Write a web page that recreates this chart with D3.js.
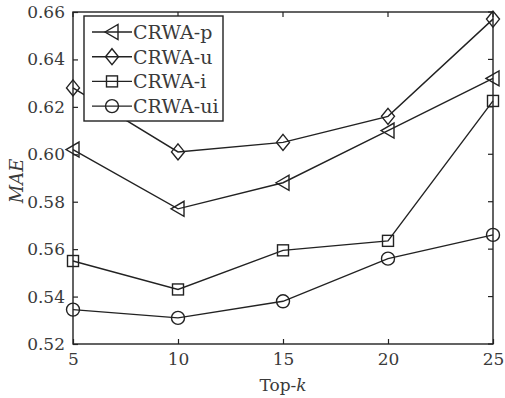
<!DOCTYPE html>
<html><head><meta charset="utf-8">
<script src="https://cdn.jsdelivr.net/npm/d3@7"></script>
<style>html,body{margin:0;padding:0;background:#fff;}svg{display:block;}</style>
</head><body>
<script>
const topK = [5, 10, 15, 20, 25];
const seriesNames = ["CRWA-p", "CRWA-u", "CRWA-i", "CRWA-ui"];
const crwaP  = [0.602, 0.577, 0.588, 0.610, 0.632];
const crwaU  = [0.628, 0.601, 0.605, 0.616, 0.657];
const crwaI  = [0.555, 0.543, 0.5595, 0.5635, 0.6225];
const crwaUI = [0.5345, 0.531, 0.538, 0.556, 0.566];
const yTicks = [0.52, 0.54, 0.56, 0.58, 0.60, 0.62, 0.64, 0.66];
const xTicks = [5, 10, 15, 20, 25];
const markers = ["triangle", "diamond", "square", "circle"];

const W = 505, H = 398;
const m = {l: 73, r: 12, t: 12, b: 54};
const svg = d3.select("body").append("svg").attr("width", W).attr("height", H);
const x = d3.scaleLinear().domain([5, 25]).range([m.l, W - m.r]);
const y = d3.scaleLinear().domain([0.52, 0.66]).range([H - m.b, m.t]);
const font = "'DejaVu Serif', serif";
const ink = "#222";
const txt = "#3a3a3a";

// frame
svg.append("rect").attr("x", x(5)).attr("y", y(0.66)).attr("width", x(25) - x(5)).attr("height", y(0.52) - y(0.66))
  .attr("fill", "none").attr("stroke", ink).attr("stroke-width", 1.4);

const xAxis = svg.append("g").attr("transform", `translate(0,${y(0.52)})`)
  .call(d3.axisBottom(x).tickValues(xTicks).tickSize(-5).tickPadding(9).tickFormat(d3.format("d")));
const yAxis = svg.append("g").attr("transform", `translate(${x(5)},0)`)
  .call(d3.axisLeft(y).tickValues(yTicks).tickSize(-5).tickPadding(8).tickFormat(d3.format(".2f")));
[xAxis, yAxis].forEach(a => {
  a.select(".domain").remove();
  a.selectAll("line").attr("stroke", ink).attr("stroke-width", 1.2);
  a.selectAll("text").attr("font-family", font).attr("font-size", 17).attr("fill", txt);
});
// top/right ticks
svg.append("g").selectAll("line").data(xTicks).join("line")
  .attr("x1", d => x(d)).attr("x2", d => x(d)).attr("y1", y(0.66)).attr("y2", y(0.66) + 5)
  .attr("stroke", ink).attr("stroke-width", 1.2);
svg.append("g").selectAll("line").data(yTicks).join("line")
  .attr("x1", x(25)).attr("x2", x(25) - 5).attr("y1", d => y(d)).attr("y2", d => y(d))
  .attr("stroke", ink).attr("stroke-width", 1.2);

// axis labels
const xl = svg.append("text").attr("x", (x(5) + x(25)) / 2).attr("y", 391).attr("text-anchor", "middle")
  .attr("font-family", font).attr("font-size", 17).attr("fill", txt);
xl.append("tspan").text("Top-");
xl.append("tspan").attr("font-style", "italic").text("k");
svg.append("text").attr("transform", `translate(23,${(y(0.52) + y(0.66)) / 2 + 3}) rotate(-90)`)
  .attr("text-anchor", "middle").attr("font-family", font).attr("font-size", 18).attr("font-style", "italic")
  .attr("fill", txt).text("MAE");

function drawMarker(g, type, cx, cy) {
  const st = s => s.attr("fill", "none").attr("stroke", ink).attr("stroke-width", 1.4);
  if (type === "circle") st(g.append("circle").attr("cx", cx).attr("cy", cy).attr("r", 6.5));
  else if (type === "square") st(g.append("rect").attr("x", cx - 5.5).attr("y", cy - 5.5).attr("width", 11).attr("height", 11));
  else if (type === "diamond") st(g.append("path").attr("d", `M${cx},${cy - 8}L${cx + 6.5},${cy}L${cx},${cy + 8}L${cx - 6.5},${cy}Z`));
  else if (type === "triangle") st(g.append("path").attr("d", `M${cx - 7},${cy}L${cx + 6},${cy - 7.5}L${cx + 6},${cy + 7.5}Z`));
}

const allSeries = [crwaP, crwaU, crwaI, crwaUI];
const line = d3.line().x((d, i) => x(topK[i])).y(d => y(d));
allSeries.forEach((vals, si) => {
  const g = svg.append("g");
  g.append("path").attr("d", line(vals)).attr("fill", "none").attr("stroke", ink).attr("stroke-width", 1.4);
  vals.forEach((v, i) => drawMarker(g, markers[si], x(topK[i]), y(v)));
});

// legend
const lg = svg.append("g");
lg.append("rect").attr("x", 84).attr("y", 16).attr("width", 139).attr("height", 105)
  .attr("fill", "#fff").attr("stroke", ink).attr("stroke-width", 1.4);
seriesNames.forEach((name, i) => {
  const cy = 32 + i * 24.7;
  lg.append("line").attr("x1", 92).attr("x2", 132).attr("y1", cy).attr("y2", cy).attr("stroke", ink).attr("stroke-width", 1.4);
  drawMarker(lg, markers[i], 112, cy);
  lg.append("text").attr("x", 133).attr("y", cy + 7).attr("font-family", font).attr("font-size", 19)
    .attr("fill", txt).text(name);
});
</script>
</body></html>
